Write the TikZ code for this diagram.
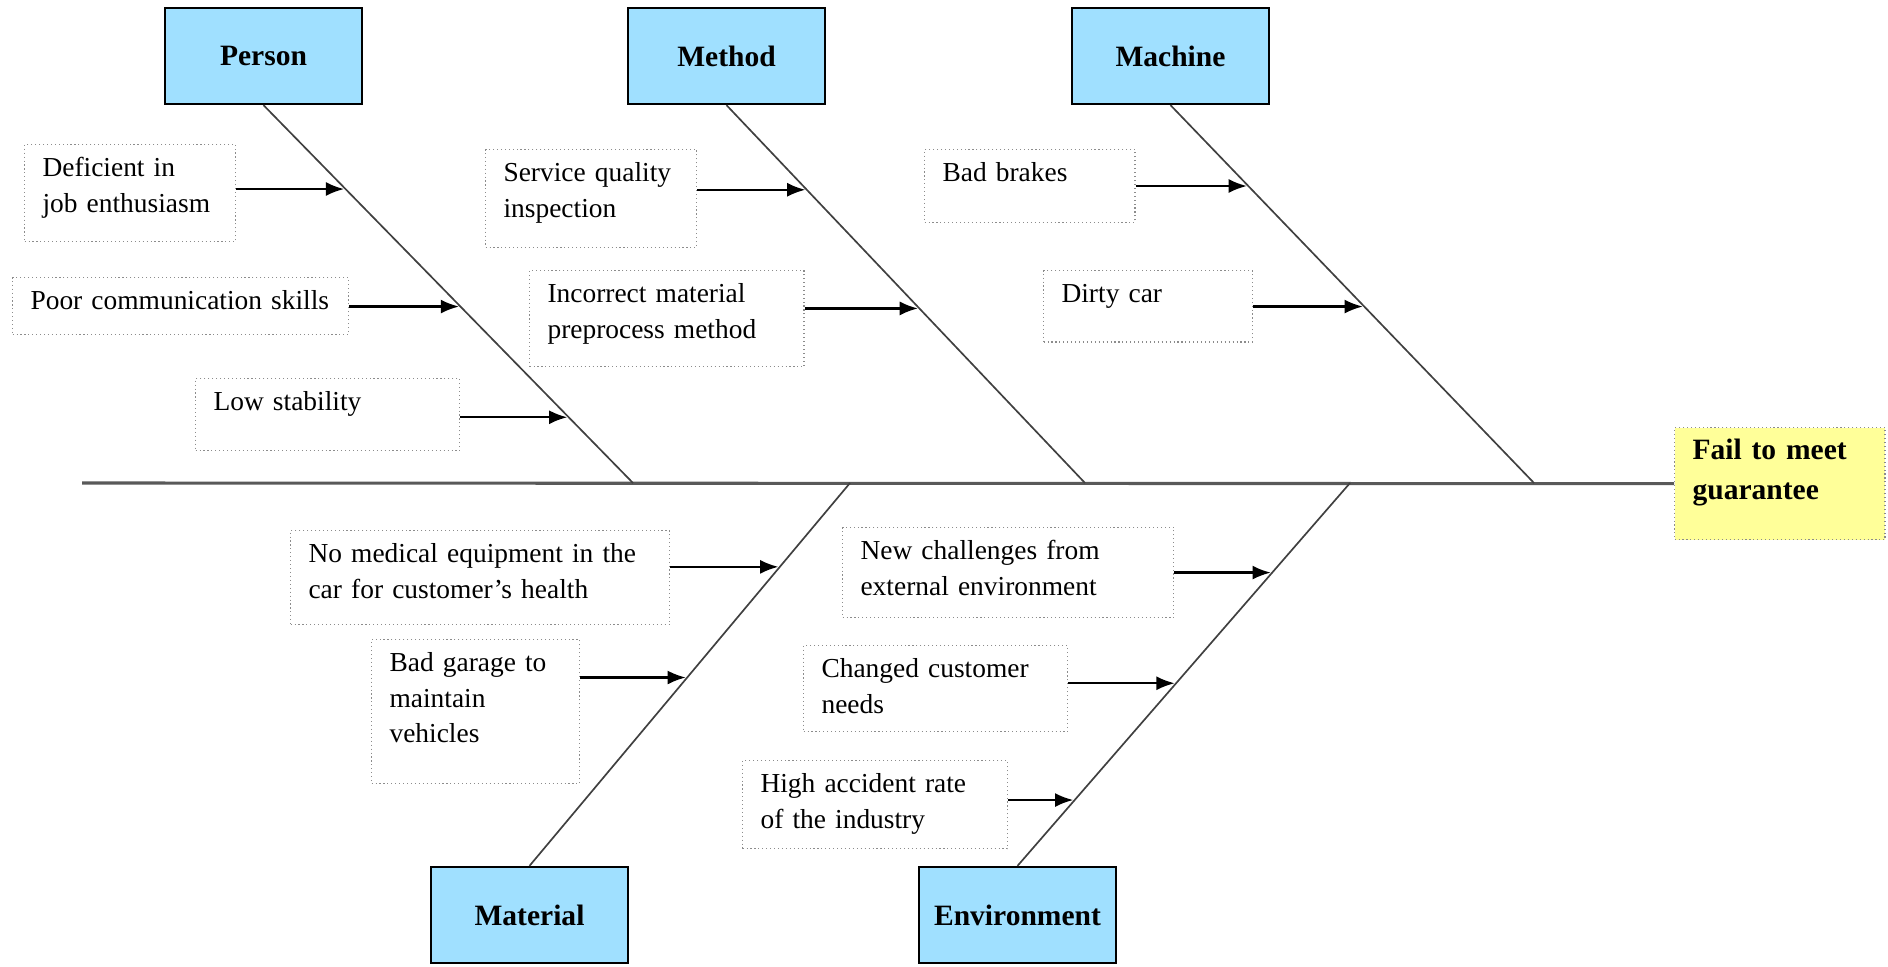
\documentclass[tikz,border=0pt]{standalone}
\usepackage{fontspec}
\setmainfont{Liberation Serif}
\usetikzlibrary{positioning,calc,arrows.meta}
\definecolor{headblue}{RGB}{160,224,255}
\definecolor{failyellow}{RGB}{255,255,153}
\tikzstyle{head}=[draw, fill=headblue, minimum width=2.46cm, minimum height=1.2cm, line width=0.8pt, font=\fontsize{10.5}{12}\selectfont\bfseries]
\tikzstyle{cause}=[draw=black!45, densely dotted, anchor=north west, align=left, inner xsep=6.4pt, inner ysep=4.5pt, text height=7pt, font=\fontsize{9.75}{12.6}\selectfont]
\tikzstyle{bone}=[draw=black!75, line width=0.6pt]
\tikzstyle{spine}=[draw=black!65, line width=1.1pt]
\tikzstyle{cl}=[->, line width=0.8pt, shorten >=0.5pt]

\begin{document}
\begin{tikzpicture}[x=0.0125cm, y=-0.0125cm, >={Latex[length=6.5pt,width=5pt]}]
\useasboundingbox (0,0) rectangle (1888,966);

% heads of the bones
\node[head] at (263.5,56) (pers) {Person};
\node[head] at (726.5,56) (meth) {Method};
\node[head] at (1170.5,56) (mach) {Machine};
\node[head] at (529.5,915) (mat) {Material};
\node[head] at (1017.5,915) (env) {Environment};

\node[cause, fill=failyellow, text width=2.18cm, text depth=0.84cm, font=\fontsize{10.5}{14.2}\selectfont\bfseries] at (1674,427) (fail) {Fail to meet\\guarantee};

\coordinate (tail) at (82,483);
\draw[spine] (tail) -- (fail.west);

\coordinate (pj) at (633,483);
\coordinate (mj) at (1085,483);
\coordinate (hj) at (1534,483);
\coordinate (tj) at (850,483);
\coordinate (ej) at (1350,483);

\draw[bone] (pers.south) -- (pj);
\draw[bone] (meth.south) -- (mj);
\draw[bone] (mach.south) -- (hj);
\draw[bone] (mat.north) -- (tj);
\draw[bone] (env.north) -- (ej);

% causes
\node[cause, text width=2.19cm, text depth=0.65cm] at (24,144) (pc1) {Deficient in\\job enthusiasm};
\node[cause, text width=3.75cm, text depth=0.15cm] at (12,277) (pc2) {Poor communication skills};
\node[cause, text width=2.85cm, text depth=0.34cm] at (195,378) (pc3) {Low stability};

\node[cause, text width=2.19cm, text depth=0.66cm] at (485,149) (mc1) {Service quality\\inspection};
\node[cause, text width=2.98cm, text depth=0.64cm] at (529,270) (mc2) {Incorrect material\\preprocess method};

\node[cause, text width=2.18cm, text depth=0.35cm] at (924,149) (hc1) {Bad brakes};
\node[cause, text width=2.16cm, text depth=0.33cm] at (1043,270) (hc2) {Dirty car};

\node[cause, text width=4.29cm, text depth=0.61cm] at (290,530) (tc1) {No medical equipment in the\\car for customer's health};
\node[cause, text width=2.15cm, text depth=1.24cm] at (371,639) (tc2) {Bad garage to\\maintain\\vehicles};

\node[cause, text width=3.69cm, text depth=0.56cm] at (842,527) (ec1) {New challenges from\\external environment};
\node[cause, text width=2.85cm, text depth=0.51cm] at (803,645) (ec2) {Changed customer\\needs};
\node[cause, text width=2.86cm, text depth=0.54cm] at (742,760) (ec3) {High accident rate\\of the industry};

% where the arrows meet the bones
\coordinate (p1) at ($(pers.south)!0.222!(pj)$);
\coordinate (p2) at ($(pers.south)!0.533!(pj)$);
\coordinate (p3) at ($(pers.south)!0.826!(pj)$);
\coordinate (m1) at ($(meth.south)!0.224!(mj)$);
\coordinate (m2) at ($(meth.south)!0.538!(mj)$);
\coordinate (h1) at ($(mach.south)!0.214!(hj)$);
\coordinate (h2) at ($(mach.south)!0.533!(hj)$);
\coordinate (t1) at ($(tj)!0.219!(mat.north)$);
\coordinate (t2) at ($(tj)!0.508!(mat.north)$);
\coordinate (e1) at ($(ej)!0.234!(env.north)$);
\coordinate (e2) at ($(ej)!0.523!(env.north)$);
\coordinate (e3) at ($(ej)!0.828!(env.north)$);

\draw[cl] (pc1.east |- p1) -- (p1);
\draw[cl] (pc2.east |- p2) -- (p2);
\draw[cl] (pc3.east |- p3) -- (p3);
\draw[cl] (mc1.east |- m1) -- (m1);
\draw[cl] (mc2.east |- m2) -- (m2);
\draw[cl] (hc1.east |- h1) -- (h1);
\draw[cl] (hc2.east |- h2) -- (h2);
\draw[cl] (tc1.east |- t1) -- (t1);
\draw[cl] (tc2.east |- t2) -- (t2);
\draw[cl] (ec1.east |- e1) -- (e1);
\draw[cl] (ec2.east |- e2) -- (e2);
\draw[cl] (ec3.east |- e3) -- (e3);
\end{tikzpicture}
\end{document}
